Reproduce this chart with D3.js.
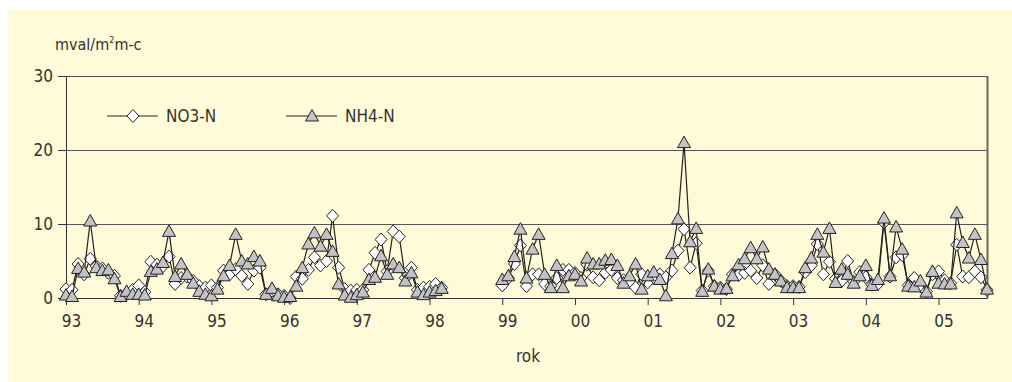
<!DOCTYPE html>
<html lang="cs">
<head>
<meta charset="UTF-8">
<title>NO3-N a NH4-N</title>
<script src="https://cdn.jsdelivr.net/npm/d3@7"></script>
<style>
    body { margin: 0; background: #fff; }
    text {
        font-family: "Liberation Sans Narrow", "DejaVu Sans Condensed", "Roboto Condensed", sans-serif;
        fill: #333;
    }
</style>
</head>
<body>
<div id="chart"></div>

<script>
    // monthly values, Jan 1993 .. Sep 2005 (null = no measurement)
    const no3 = [
        1.2, 1.1, 4.6, 3.2, 5.3, 4.3, 4.0, 3.4, 3.0, 0.3, 0.6, 1.1,
        1.7, 0.8, 4.9, 4.5, 4.3, 5.6, 1.9, 2.7, 2.9, 2.3, 1.6, 1.4,
        1.7, 1.4, 3.7, 3.2, 3.9, 3.0, 1.9, 3.7, 4.1, 0.5, 1.0, 0.5,
        0.3, 0.0, 2.9, 2.6, 3.8, 5.5, 4.4, 5.0, 11.1, 4.1, 1.2, 1.0,
        1.1, 1.1, 3.8, 6.1, 7.9, 3.6, 9.0, 8.3, 2.7, 4.1, 1.1, 1.4,
        1.5, 1.9, 1.4, null, null, null, null, null, null, null, null, null,
        1.7, 2.7, 4.6, 7.1, 1.6, 3.2, 3.2, 1.9, 1.6, 2.7, 3.8, 3.8,
        3.4, 2.7, 4.5, 2.8, 2.4, 3.4, 3.8, 2.7, 2.4, 2.2, 1.4, 3.2,
        2.1, 2.8, 3.2, 2.8, 3.7, 6.4, 9.3, 4.1, 7.4, 1.0, 3.7, 1.6,
        1.4, 1.2, 3.2, 3.1, 3.4, 3.7, 2.7, 4.4, 1.9, 3.2, 2.3, 1.6,
        1.6, 1.5, 3.5, 4.4, 7.3, 3.2, 4.9, 2.6, 2.3, 5.0, 2.2, 3.5,
        2.8, 1.8, 1.9, 10.2, 2.9, 5.5, 5.8, 1.7, 2.7, 1.6, 0.9, 3.2,
        3.6, 2.4, 2.0, 7.2, 2.9, 2.8, 3.6, 2.8, 1.1
    ];
    const nh4 = [
        0.4, 0.2, 4.0, 3.5, 10.4, 4.1, 3.7, 3.8, 2.6, 0.2, 0.9, 0.5,
        0.5, 0.4, 3.6, 3.9, 4.8, 9.0, 2.9, 4.6, 3.2, 2.0, 0.9, 0.5,
        0.3, 1.2, 3.0, 4.4, 8.6, 5.0, 4.6, 5.6, 5.0, 0.5, 1.3, 0.3,
        0.1, 0.2, 1.6, 4.1, 7.3, 8.8, 7.0, 8.6, 6.3, 1.9, 0.4, 0.1,
        0.45, 0.8, 2.5, 2.8, 5.7, 3.2, 4.6, 4.1, 2.3, 3.4, 0.8, 0.45,
        0.8, 1.0, 1.3, null, null, null, null, null, null, null, null, null,
        2.5, 3.0, 5.6, 9.3, 2.7, 6.6, 8.6, 3.2, 1.4, 4.4, 1.4, 3.0,
        3.2, 2.3, 5.4, 4.6, 4.6, 5.1, 5.2, 4.4, 2.0, 3.0, 4.6, 1.2,
        3.0, 3.5, 2.5, 0.3, 6.0, 10.7, 21.0, 7.6, 9.4, 0.9, 3.9, 1.6,
        1.2, 1.3, 3.0, 4.5, 5.3, 6.8, 5.3, 6.9, 3.9, 3.2, 2.3, 1.4,
        1.4, 1.4, 4.1, 5.4, 8.6, 6.2, 9.4, 2.1, 3.9, 3.2, 2.0, 3.0,
        4.4, 1.7, 2.5, 10.8, 3.0, 9.6, 6.6, 1.6, 1.5, 2.3, 0.8, 3.6,
        2.0, 1.9, 1.9, 11.5, 7.5, 5.4, 8.6, 5.2, 1.2
    ];
    const yearLabels = ["93", "94", "95", "96", "97", "98", "99", "00", "01", "02", "03", "04", "05"];
    const yTicks = [0, 10, 20, 30];
    const seriesNames = ["NO3-N", "NH4-N"];

    const W = 1012, H = 382;
    const margin = {top: 76, right: 25, bottom: 84, left: 66};

    const svg = d3.select("#chart").append("svg")
        .attr("width", W)
        .attr("height", H);

    // yellow panel
    svg.append("rect")
        .attr("x", 8).attr("y", 9)
        .attr("width", W - 8).attr("height", H - 9)
        .attr("fill", "#fffad7");

    const x = d3.scaleLinear()
        .domain([0, no3.length - 1])
        .range([margin.left, W - margin.right]);
    const y = d3.scaleLinear()
        .domain([0, 30])
        .range([H - margin.bottom, margin.top]);

    // grid lines
    svg.append("g")
        .selectAll("line")
        .data(yTicks.filter(d => d > 0))
        .enter()
        .append("line")
        .attr("x1", x.range()[0])
        .attr("x2", x.range()[1])
        .attr("y1", d => y(d))
        .attr("y2", d => y(d))
        .attr("stroke", "#555")
        .attr("stroke-width", 1)
        .attr("shape-rendering", "crispEdges");

    // right border
    svg.append("line")
        .attr("x1", x.range()[1] + 0.5).attr("x2", x.range()[1] + 0.5)
        .attr("y1", y(30)).attr("y2", y(0))
        .attr("stroke", "#6b6657")
        .attr("stroke-width", 2);

    // y axis
    svg.append("g")
        .attr("transform", "translate(" + margin.left + ",0)")
        .call(d3.axisLeft(y).tickValues(yTicks).tickSize(8).tickPadding(5))
        .call(g => g.selectAll("line, path").attr("stroke", "#333"))
        .call(g => g.selectAll("text").attr("font-size", 17).style("font-family", null));

    // x axis
    svg.append("g")
        .attr("transform", "translate(0," + y(0) + ")")
        .call(d3.axisBottom(x)
            .tickValues(yearLabels.map((d, i) => i * 12))
            .tickFormat((d, i) => yearLabels[i])
            .tickSize(7)
            .tickSizeOuter(0)
            .tickPadding(10))
        .call(g => g.selectAll("line, path").attr("stroke", "#333"))
        .call(g => g.selectAll("text").attr("font-size", 17).attr("x", 5));

    // axis titles
    svg.append("text")
        .attr("x", 55).attr("y", 50)
        .attr("font-size", 16)
        .html('mval/m<tspan font-size="9" dy="-7">2</tspan><tspan dy="7">m-c</tspan>');

    svg.append("text")
        .attr("x", 528).attr("y", 362)
        .attr("text-anchor", "middle")
        .attr("font-size", 17)
        .text("rok");

    const diamond = "M0,-6.5L6,0L0,6.5L-6,0Z";
    const triangle = "M0,-6.5L6.5,5L-6.5,5Z";

    const series = [
        {name: seriesNames[0], values: no3, path: diamond, fill: "#ffffff"},
        {name: seriesNames[1], values: nh4, path: triangle, fill: "#c3c3c6"}
    ];

    const line = d3.line()
        .defined(d => d.v !== null)
        .x(d => x(d.i))
        .y(d => y(d.v));

    for (let s of series) {
        const pts = s.values.map((v, i) => ({i: i, v: v}));
        svg.append("path")
            .datum(pts)
            .attr("fill", "none")
            .attr("stroke", "#222")
            .attr("stroke-width", 1.2)
            .attr("d", line);

        svg.append("g")
            .selectAll("path")
            .data(pts.filter(d => d.v !== null))
            .enter()
            .append("path")
            .attr("d", s.path)
            .attr("transform", d => "translate(" + x(d.i) + "," + y(d.v) + ")")
            .attr("fill", s.fill)
            .attr("stroke", "#222")
            .attr("stroke-width", 1);
    }

    // legend
    const legend = svg.append("g");
    const legendX = [107, 286];
    series.forEach((s, k) => {
        const g = legend.append("g").attr("transform", "translate(" + legendX[k] + ",116)");
        g.append("line")
            .attr("x1", 0).attr("x2", 51)
            .attr("stroke", "#222").attr("stroke-width", 1.2);
        g.append("path")
            .attr("d", s.path)
            .attr("transform", "translate(26,0)")
            .attr("fill", s.fill)
            .attr("stroke", "#222");
        g.append("text")
            .attr("x", 59).attr("y", 6)
            .attr("font-size", 17)
            .text(s.name);
    });
</script>
</body>
</html>
